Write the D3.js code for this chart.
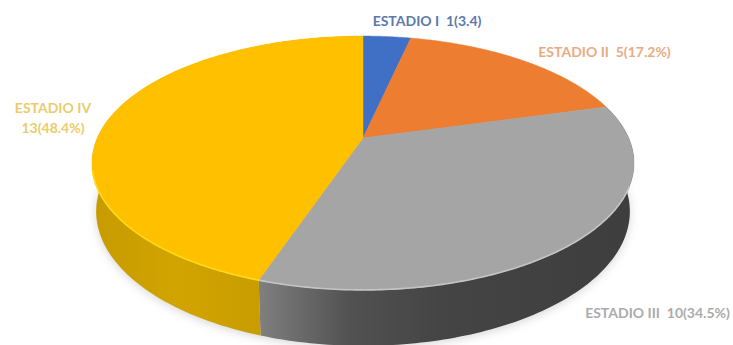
<!DOCTYPE html>
<html>
<head>
<meta charset="utf-8">
<script src="https://cdn.jsdelivr.net/npm/d3@7"></script>
<style>
  html, body { margin: 0; padding: 0; background: #fff; }
  svg { display: block; }
  text { font-family: Lato, "Open Sans", sans-serif; font-weight: 700; white-space: pre; }
</style>
</head>
<body>
<svg id="chart" width="733" height="345"></svg>
<script>
// Patients per stage
const stages = ["ESTADIO I", "ESTADIO II", "ESTADIO III", "ESTADIO IV"];
const counts = [1, 5, 10, 13];
const topColors = ["#3F70C6", "#ED7D31", "#A5A5A5", "#FFC000"];
const rimColors = ["#6f95dc", "#f5a36b", "#c4c4c4", "#FFD91A"];
const labelColors = ["#5C78AC", "#E9AB82", "#ABABAB", "#E9CC6C"];
// Label lines as printed on the chart
const labelLines = [
  ["ESTADIO I  1(3.4)"],
  ["ESTADIO II  5(17.2%)"],
  ["ESTADIO III  10(34.5%)"],
  ["ESTADIO IV", "13(48.4%)"]
];
const labelAnchors = [[427, 26], [604.5, 57], [657.5, 318], [53, 113]];

const svg = d3.select("#chart");
const defs = svg.append("defs");

// Tilted disc: a point on the unit circle goes through a perspective projection.
const centre = { x: 363, y: 138 };
const radius = 265.7, tilt = 122, perspective = 0.197, depth = 48, depthFade = 0.015;
function project(angle, level) {
  const u = Math.sin(angle), v = Math.cos(angle);
  const w = 1 + perspective * v + depthFade * level;
  return [centre.x + radius * u / w, centre.y + (-tilt * v + depth * level) / w];
}

const arcs = d3.pie().sort(null).value(d => d)(counts);
const line = d3.line();
const samples = (a, b) => d3.range(0, 121).map(i => a + (b - a) * i / 120);
const rim = (a, b, level) => samples(a, b).map(t => project(t, level));

// Soft shadow around the base of the disc
defs.append("filter").attr("id", "soft")
  .attr("x", "-10%").attr("y", "-10%").attr("width", "120%").attr("height", "120%")
  .append("feGaussianBlur").attr("stdDeviation", 5);
defs.append("filter").attr("id", "bevel")
  .attr("x", "-5%").attr("y", "-5%").attr("width", "110%").attr("height", "110%")
  .append("feGaussianBlur").attr("stdDeviation", 0.7);

svg.append("path")
  .attr("d", line(rim(0, 2 * Math.PI, 1)) + "Z")
  .attr("transform", "translate(0,2)")
  .attr("fill", "#9a9a9a")
  .attr("opacity", 0.4)
  .attr("filter", "url(#soft)");

// Side wall shading runs from left to right across each visible slice
const greyWall = defs.append("linearGradient").attr("id", "wall-2")
  .attr("gradientUnits", "userSpaceOnUse")
  .attr("x1", project(arcs[2].endAngle, 0)[0]).attr("x2", project(Math.PI / 2, 0)[0])
  .attr("y1", 0).attr("y2", 0);
[[0, "#808080"], [0.1, "#6c6c6c"], [0.25, "#515151"], [0.5, "#444444"], [1, "#3e3e3e"]]
  .forEach(([o, c]) => greyWall.append("stop").attr("offset", o).attr("stop-color", c));
const goldWall = defs.append("linearGradient").attr("id", "wall-3")
  .attr("gradientUnits", "userSpaceOnUse")
  .attr("x1", project(-Math.PI / 2, 0)[0]).attr("x2", project(arcs[3].startAngle, 0)[0])
  .attr("y1", 0).attr("y2", 0);
[[0, "#C89C00"], [0.5, "#D2A400"], [1, "#C99D00"]]
  .forEach(([o, c]) => goldWall.append("stop").attr("offset", o).attr("stop-color", c));

// Walls of the two front slices, then the flat top of every slice
svg.append("g").selectAll("path")
  .data(arcs.filter(d => d.index >= 2))
  .join("path")
  .attr("d", d => line(rim(d.startAngle, d.endAngle, 0)
    .concat(rim(d.endAngle, d.startAngle, 1))) + "Z")
  .attr("fill", d => `url(#wall-${d.index})`);

svg.append("g").selectAll("path")
  .data(arcs)
  .join("path")
  .attr("d", d => line([[centre.x, centre.y]].concat(rim(d.startAngle, d.endAngle, 0))) + "Z")
  .attr("fill", d => topColors[d.index])
  .attr("stroke", d => topColors[d.index])
  .attr("stroke-width", 0.5);

// Light bevel along the front edge of the top
svg.append("g").attr("filter", "url(#bevel)").selectAll("path")
  .data(arcs.filter(d => d.index >= 2))
  .join("path")
  .attr("d", d => {
    const from = d.index === 2 ? Math.PI * 0.62 : d.startAngle;
    const to = d.index === 3 ? Math.PI * 1.42 : d.endAngle;
    return line(rim(from, to, 0));
  })
  .attr("fill", "none")
  .attr("stroke", d => rimColors[d.index])
  .attr("stroke-width", 1.6);

// Stage labels
svg.append("g").selectAll("text")
  .data(labelLines)
  .join("text")
  .attr("text-anchor", "middle")
  .attr("font-size", 14)
  .attr("fill", (d, i) => labelColors[i])
  .attr("x", (d, i) => labelAnchors[i][0])
  .attr("y", (d, i) => labelAnchors[i][1])
  .selectAll("tspan")
  .data(d => d)
  .join("tspan")
  .attr("x", function () { return d3.select(this.parentNode).attr("x"); })
  .attr("dy", (d, i) => i === 0 ? 0 : 20)
  .text(d => d);
</script>
</body>
</html>
